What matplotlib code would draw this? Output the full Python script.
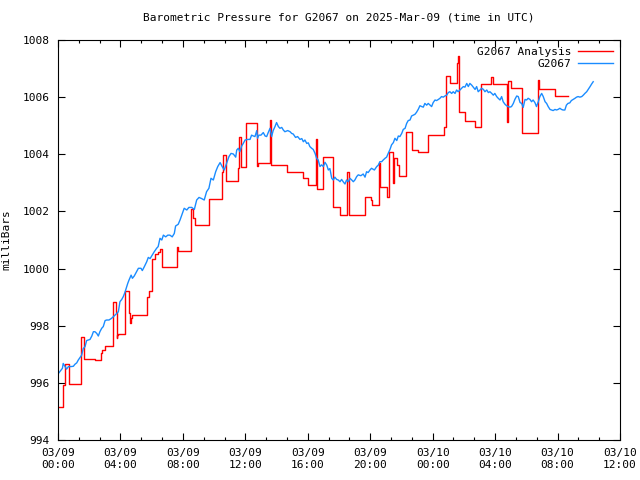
import datetime as dt
import matplotlib
matplotlib.use("Agg")
import matplotlib.pyplot as plt
import matplotlib.dates as mdates
from matplotlib.ticker import MultipleLocator

# minutes after 2025-03-09 00:00 UTC, pressure in mb
analysis_min = [0, 19, 21, 25, 42, 88, 100, 142, 165, 169, 181, 211, 213, 221, 225, 227,
                231, 257, 273, 277, 281, 286, 342, 350, 361, 363, 373, 383, 392, 400, 459,
                461, 510, 519, 526, 580, 630, 636, 644, 690, 697, 703, 722, 765, 769, 815,
                818, 820, 880, 942, 959, 991, 997, 1018, 1057, 1084, 1111, 1118, 1180, 1203,
                1207, 1234, 1239, 1264, 1272, 1287, 1293, 1303, 1310, 1337, 1360, 1383, 1422,
                1483, 1491, 1506, 1533, 1537, 1543, 1564, 1603, 1626, 1664, 1672, 1725, 1729,
                1741, 1783, 1843, 1848, 1910, 1960]
analysis_mb = [995.17, 995.5, 995.92, 996.66, 995.96, 997.6, 996.83, 996.79, 997.03, 997.15,
               997.28, 998.06, 998.82, 998.47, 997.56, 997.67, 997.7, 999.23, 998.44, 998.1,
               998.27, 998.36, 999.02, 999.21, 999.72, 1000.32, 1000.5, 1000.59, 1000.67,
               1000.07, 1000.77, 1000.62, 1002.07, 1001.76, 1001.52, 1002.43, 1003.39,
               1003.98, 1003.07, 1003.51, 1004.6, 1003.57, 1005.08, 1003.6, 1003.68, 1005.2,
               1004.05, 1003.62, 1003.37, 1003.16, 1002.92, 1004.52, 1002.77, 1003.9, 1002.16,
               1001.87, 1003.38, 1001.87, 1002.5, 1002.4, 1002.22, 1003.7, 1002.85, 1002.5,
               1004.08, 1003.0, 1003.87, 1003.62, 1003.24, 1004.78, 1004.15, 1004.08, 1004.67,
               1004.95, 1006.74, 1006.49, 1007.18, 1007.44, 1005.48, 1005.17, 1004.95,
               1006.46, 1006.7, 1006.46, 1005.13, 1006.56, 1006.32, 1004.75, 1006.6, 1006.28,
               1006.04, 1006.04]

obs_min = [0, 17, 20, 27, 33, 40, 50, 59, 65, 72, 78, 85, 91, 97, 104, 110, 116, 123, 130,
           136, 142, 149, 155, 161, 168, 174, 181, 187, 196, 206, 213, 219, 232, 238, 245,
           251, 257, 268, 273, 281, 286, 293, 302, 309, 319, 324, 332, 341, 347, 354, 362,
           370, 379, 385, 392, 399, 405, 414, 422, 430, 439, 447, 452, 462, 469, 478, 485,
           495, 503, 514, 524, 533, 542, 552, 562, 571, 580, 588, 597, 606, 614, 623, 631,
           639, 648, 657, 665, 674, 683, 687, 693, 699, 706, 712, 719, 729, 738, 744, 751,
           757, 764, 767, 772, 780, 789, 796, 802, 808, 815, 821, 827, 834, 840, 847, 853,
           860, 866, 872, 883, 892, 898, 904, 913, 921, 930, 937, 943, 949, 956, 962, 968,
           975, 981, 988, 994, 1000, 1007, 1013, 1020, 1026, 1033, 1039, 1045, 1052, 1058,
           1064, 1071, 1077, 1084, 1090, 1096, 1103, 1109, 1116, 1122, 1129, 1135, 1141,
           1148, 1154, 1164, 1173, 1180, 1186, 1192, 1199, 1205, 1216, 1225, 1231, 1237,
           1244, 1250, 1257, 1263, 1269, 1276, 1282, 1289, 1295, 1302, 1308, 1314, 1321,
           1327, 1334, 1340, 1346, 1353, 1359, 1366, 1372, 1378, 1385, 1391, 1398, 1404,
           1410, 1417, 1423, 1430, 1436, 1442, 1449, 1455, 1462, 1468, 1474, 1481, 1487,
           1494, 1500, 1506, 1513, 1519, 1526, 1532, 1538, 1545, 1551, 1558, 1564, 1571,
           1577, 1583, 1590, 1596, 1603, 1609, 1615, 1622, 1628, 1635, 1641, 1648, 1654,
           1660, 1667, 1673, 1679, 1686, 1692, 1699, 1705, 1711, 1718, 1724, 1730, 1737,
           1743, 1750, 1756, 1763, 1769, 1776, 1782, 1788, 1795, 1801, 1807, 1814, 1820,
           1826, 1833, 1839, 1846, 1852, 1859, 1865, 1872, 1878, 1884, 1891, 1897, 1903,
           1910, 1916, 1922, 1929, 1935, 1941, 1948, 1954, 1960, 1967, 1973, 1980, 1987,
           1993, 1999, 2006, 2013, 2019, 2025, 2032, 2038, 2045, 2051, 2057]
obs_mb = [996.31, 996.51, 996.68, 996.57, 996.48, 996.57, 996.57, 996.58, 996.65, 996.70,
          996.80, 996.89, 996.97, 997.20, 997.27, 997.48, 997.50, 997.52, 997.64, 997.79,
          997.79, 997.73, 997.64, 997.79, 997.91, 997.97, 998.18, 998.20, 998.20, 998.26,
          998.32, 998.37, 998.49, 998.84, 998.92, 999.02, 999.16, 999.48, 999.60, 999.77,
          999.66, 999.74, 999.89, 1000.01, 1000.01, 999.93, 1000.07, 1000.24, 1000.39,
          1000.35, 1000.47, 1000.59, 1000.71, 1000.77, 1001.06, 1001.00, 1001.17, 1001.11,
          1001.17, 1001.17, 1001.11, 1001.23, 1001.49, 1001.55, 1001.70, 1001.93, 1002.11,
          1002.05, 1002.14, 1002.14, 1002.07, 1002.40, 1002.49, 1002.45, 1002.40, 1002.69,
          1002.81, 1003.16, 1003.10, 1003.39, 1003.57, 1003.71, 1003.57, 1003.45, 1003.68,
          1003.92, 1004.03, 1004.01, 1003.90, 1004.15, 1004.21, 1004.09, 1004.29, 1004.38,
          1004.50, 1004.52, 1004.52, 1004.67, 1004.64, 1004.62, 1004.83, 1004.56, 1004.67,
          1004.67, 1004.76, 1004.64, 1004.62, 1004.76, 1004.91, 1004.62, 1004.83, 1004.97,
          1005.11, 1004.97, 1004.91, 1004.94, 1004.85, 1004.79, 1004.83, 1004.79, 1004.73,
          1004.71, 1004.59, 1004.62, 1004.52, 1004.55, 1004.44, 1004.50, 1004.38, 1004.40,
          1004.27, 1004.21, 1004.17, 1004.03, 1003.86, 1003.80, 1003.57, 1003.63, 1003.57,
          1003.72, 1003.62, 1003.45, 1003.50, 1003.16, 1003.10, 1003.20, 1003.12, 1003.10,
          1003.04, 1003.12, 1003.04, 1002.96, 1003.10, 1003.04, 1003.16, 1003.10, 1003.04,
          1003.10, 1003.22, 1003.28, 1003.25, 1003.31, 1003.20, 1003.39, 1003.36, 1003.45,
          1003.51, 1003.45, 1003.57, 1003.62, 1003.74, 1003.74, 1003.80, 1003.86, 1003.90,
          1004.03, 1004.17, 1004.33, 1004.41, 1004.56, 1004.48, 1004.64, 1004.62, 1004.73,
          1004.87, 1004.91, 1005.08, 1005.18, 1005.20, 1005.34, 1005.37, 1005.40, 1005.47,
          1005.58, 1005.70, 1005.67, 1005.65, 1005.78, 1005.72, 1005.78, 1005.72, 1005.67,
          1005.81, 1005.90, 1005.88, 1005.92, 1005.96, 1006.02, 1006.00, 1006.04, 1006.07,
          1006.16, 1006.19, 1006.13, 1006.19, 1006.13, 1006.25, 1006.19, 1006.25, 1006.31,
          1006.37, 1006.35, 1006.48, 1006.37, 1006.48, 1006.42, 1006.35, 1006.27, 1006.37,
          1006.19, 1006.25, 1006.31, 1006.27, 1006.19, 1006.25, 1006.16, 1006.19, 1006.13,
          1006.07, 1006.13, 1006.02, 1005.96, 1005.90, 1006.02, 1005.84, 1005.75, 1005.70,
          1005.67, 1005.65, 1005.67, 1005.78, 1005.92, 1006.04, 1006.02, 1005.81, 1005.78,
          1005.64, 1005.92, 1005.90, 1005.96, 1005.92, 1005.84, 1005.90, 1005.81, 1005.67,
          1005.84, 1006.02, 1006.13, 1006.02, 1005.84, 1005.78, 1005.67, 1005.57, 1005.55,
          1005.53, 1005.57, 1005.55, 1005.57, 1005.61, 1005.57, 1005.55, 1005.55, 1005.72,
          1005.78, 1005.80, 1005.88, 1005.92, 1005.96, 1006.00, 1006.02, 1006.00, 1006.02,
          1006.07, 1006.13, 1006.19, 1006.27, 1006.37, 1006.46, 1006.54]

start = dt.datetime(2025, 3, 9, 0, 0)
t_analysis = [start + dt.timedelta(minutes=m) for m in analysis_min]
t_obs = [start + dt.timedelta(minutes=m) for m in obs_min]

plt.rcParams['font.family'] = 'DejaVu Sans Mono'
plt.rcParams['font.size'] = 8

fig = plt.figure(figsize=(6.4, 4.8), dpi=100)
ax = fig.add_axes([58 / 640, 40 / 480, 562 / 640, 400 / 480])

ax.plot(t_analysis, analysis_mb, color='#ff0000', lw=1.0, drawstyle='steps-post',
        label='G2067 Analysis')
ax.plot(t_obs, obs_mb, color='#1a8cff', lw=1.0, label='G2067')

ax.set_xlim(start, start + dt.timedelta(hours=36))
ax.set_ylim(994, 1008)
ax.yaxis.set_major_locator(MultipleLocator(2))
ax.xaxis.set_major_locator(mdates.HourLocator(byhour=range(0, 24, 4)))
ax.xaxis.set_major_formatter(mdates.DateFormatter('%m/%d\n%H:%M'))
ax.xaxis.set_minor_locator(MultipleLocator(80 / 1440))

ax.tick_params(which='both', direction='in', top=True, right=True, width=0.8)
ax.tick_params(which='major', length=5, pad=6)
ax.tick_params(which='minor', length=2.5)
for s in ax.spines.values():
    s.set_linewidth(0.8)

ax.set_ylabel('milliBars', labelpad=8)
ax.set_title('Barometric Pressure for G2067 on 2025-Mar-09 (time in UTC)', pad=14, fontsize=8)

ax.legend(loc='upper right', frameon=False, markerfirst=False, handlelength=3.2,
          borderaxespad=0.2, labelspacing=0.2, handletextpad=0.6)

fig.savefig('out.png', dpi=100)
